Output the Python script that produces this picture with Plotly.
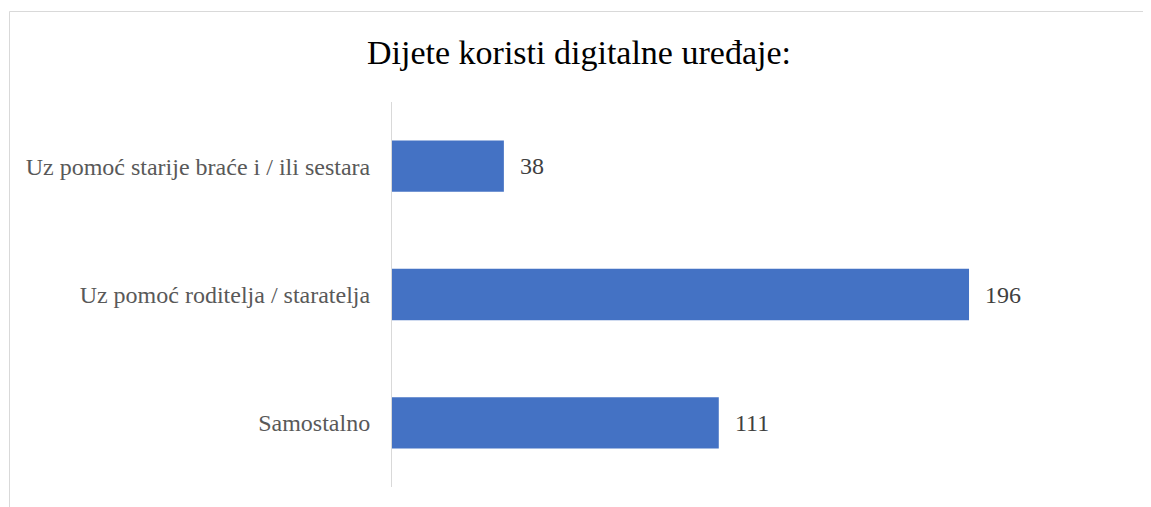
import plotly.graph_objects as go

categories = ["Samostalno", "Uz pomoć roditelja / staratelja", "Uz pomoć starije braće i / ili sestara"]
values = [111, 196, 38]
title_text = "Dijete koristi digitalne uređaje:"

# page has an 8px body margin, so the figure is sized/offset accordingly
OFF = 8
W, H = 1151 - OFF, 507 - OFF
L, T = 392 - OFF, 102 - OFF
R = W - (1128 - OFF)
B = H - (487 - OFF)
pw = W - L - R
ph = H - T - B

fig = go.Figure()
fig.add_trace(go.Bar(
    y=categories, x=values, orientation="h",
    marker=dict(color="#4472C4", line=dict(width=0)),
    hoverinfo="x+y",
))

for c, v in zip(categories, values):
    fig.add_annotation(x=v, y=c, text=str(v), showarrow=False, xanchor="left", yanchor="middle",
                       xshift=14, font=dict(family="Liberation Serif", size=24, color="#404040"))

fig.update_layout(
    width=W, height=H,
    margin=dict(l=L, r=R, t=T, b=B, pad=0),
    paper_bgcolor="white", plot_bgcolor="white",
    bargap=0.6,
    showlegend=False,
    title=dict(text=title_text, x=(579 - OFF) / W, xanchor="center", y=1 - (52 - OFF) / H, yanchor="middle",
               font=dict(family="Liberation Serif", size=34, color="#000000")),
    xaxis=dict(range=[0, 250], showgrid=False, zeroline=False, showticklabels=False,
               showline=False, ticks=""),
    yaxis=dict(showgrid=False, zeroline=False, showline=True, linecolor="#d9d9d9", linewidth=1,
               ticks="", ticklabelstandoff=16,
               tickfont=dict(family="Liberation Serif", size=24, color="#595959")),
)

# outer chart border (light gray), partially visible like the reference
fig.add_shape(type="rect", xref="paper", yref="paper",
              x0=(9.5 - 392) / pw, x1=(W + 20 - L) / pw,
              y0=-(B + 20) / ph, y1=1 + (102 - 11.5) / ph,
              line=dict(color="#d9d9d9", width=1), fillcolor="rgba(0,0,0,0)", layer="below")

fig.write_html("out.html")
